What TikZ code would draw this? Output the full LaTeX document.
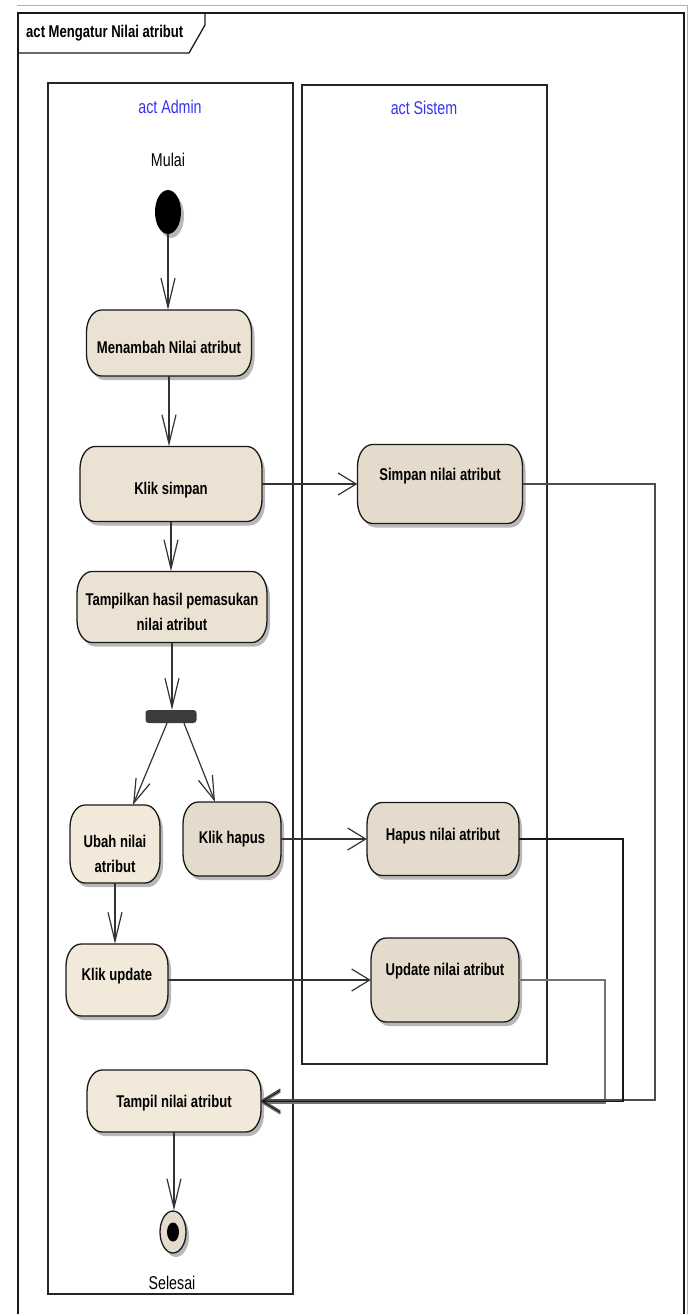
\documentclass[tikz,border=0pt]{standalone}
\usepackage{fontspec}
\newfontfamily\diafont{Liberation Sans}[FakeStretch=0.77]
\usetikzlibrary{arrows.meta,shapes.geometric,shadows}

\definecolor{actA}{HTML}{F2E9DA}
\definecolor{actB}{HTML}{EBE2D3}
\definecolor{actC}{HTML}{E4DBCC}
\definecolor{laneblue}{HTML}{3434F2}
\definecolor{shadowc}{HTML}{B8B8B8}
\definecolor{forkc}{HTML}{3C3C3C}

\tikzset{
  flow/.style={line width=1.2pt, draw=black!80},
  vtip/.style={-{Straight Barb[length=29pt,width=14pt]}},
  htip/.style={-{Straight Barb[length=18pt,width=22pt]}},
  dtip/.style={-{Straight Barb[length=24pt,width=15pt]}},
  acttext/.style={font=\diafont\bfseries\fontsize{17}{25}\selectfont, align=center, inner sep=0pt},
  boxline/.style={draw=black!90, line width=1.3pt},
  lanelabel/.style={font=\diafont\fontsize{18.5}{20}\selectfont, text=laneblue},
  plainlabel/.style={font=\diafont\fontsize{18.5}{20}\selectfont},
  lane/.style={draw=black!85, line width=1.4pt},
  softshadow/.style={drop shadow={shadow xshift=3pt, shadow yshift=-4pt, fill=shadowc, opacity=1}},
}

% action box: name, centre x, centre y, width, height, fill, text offset, text
\newcommand\actbox[8]{%
  \pgfmathsetmacro\bhw{#4/2}%
  \pgfmathsetmacro\bhh{#5/2}%
  \begin{scope}[shift={(#2+3,#3+4)}]
    \fill[shadowc] (-\bhw+15,-\bhh) -- (\bhw-15,-\bhh)
      arc[start angle=90,end angle=0,x radius=15pt,y radius=22pt] -- (\bhw,\bhh-22)
      arc[start angle=0,end angle=-90,x radius=15pt,y radius=22pt] -- (-\bhw+15,\bhh)
      arc[start angle=-90,end angle=-180,x radius=15pt,y radius=22pt] -- (-\bhw,-\bhh+22)
      arc[start angle=180,end angle=90,x radius=15pt,y radius=22pt] -- cycle;
  \end{scope}
  \begin{scope}[shift={(#2,#3)}]
    \filldraw[fill=#6, boxline] (-\bhw+15,-\bhh) -- (\bhw-15,-\bhh)
      arc[start angle=90,end angle=0,x radius=15pt,y radius=22pt] -- (\bhw,\bhh-22)
      arc[start angle=0,end angle=-90,x radius=15pt,y radius=22pt] -- (-\bhw+15,\bhh)
      arc[start angle=-90,end angle=-180,x radius=15pt,y radius=22pt] -- (-\bhw,-\bhh+22)
      arc[start angle=180,end angle=90,x radius=15pt,y radius=22pt] -- cycle;
  \end{scope}
  \node[inner sep=0pt, minimum width=#4pt, minimum height=#5pt] (#1) at (#2,#3) {};
  \node[acttext] (#1-text) at (#2,#3+#7) {#8};
}

\begin{document}
\begin{tikzpicture}[x=1pt, y=-1pt]
  \useasboundingbox (0,0) rectangle (692,1314);
  \fill[white] (0,0) rectangle (692,1314);

  % diagram frame and its name tab
  \draw[black!30, line width=0.8pt] (17,5) -- (687,5) -- (687,1320);
  \draw[black!90, line width=1.5pt] (18,1320) -- (18,13) -- (684,13) -- (684,1320);
  \draw[black!90, line width=1.3pt] (18,53) -- (189,53) -- (205,25) -- (205,13);
  \node[font=\diafont\bfseries\fontsize{17}{20}\selectfont, anchor=west, inner sep=0pt] (title) at (26,33) {act Mengatur Nilai atribut};

  % swimlanes
  \draw[lane] (48,83) rectangle (293,1294);
  \draw[lane] (302,85) rectangle (547,1064);
  \node[lanelabel] (adminlabel) at (170,107) {act Admin};
  \node[lanelabel] (sistemlabel) at (424,108) {act Sistem};

  % start
  \node[plainlabel] (mulai) at (168,160) {Mulai};
  \node[ellipse, fill=black, minimum width=26pt, minimum height=44pt, inner sep=0pt, softshadow] (start) at (168,212) {};

  % actions
  \actbox{menambah}{169}{343}{165}{66}{actB}{4}{Menambah Nilai atribut}
  \actbox{klik}{171}{484}{182}{75}{actB}{6}{Klik simpan}
  \actbox{tampilkan}{172}{607}{190}{71}{actB}{5}{Tampilkan hasil pemasukan\\nilai atribut}
  \actbox{simpan}{440}{484}{165}{79}{actC}{-8}{Simpan nilai atribut}
  \actbox{ubah}{115}{844}{90}{78}{actA}{10}{Ubah nilai\\atribut}
  \actbox{klikhapus}{232}{839}{98}{74}{actC}{0}{Klik hapus}
  \actbox{klikupdate}{117}{980}{102}{72}{actA}{-4}{Klik update}
  \actbox{hapus}{443}{839}{152}{73}{actC}{-3}{Hapus nilai atribut}
  \actbox{update}{445}{980}{148}{84}{actC}{-9}{Update nilai atribut}
  \actbox{tampil}{174}{1101}{174}{62}{actA}{2}{Tampil nilai atribut}

  % fork bar
  \node[rectangle, rounded corners=3pt, fill=forkc, minimum width=51pt, minimum height=13pt, inner sep=0pt] (fork) at (171,716.5) {};

  % end
  \node[ellipse, fill=actC, boxline, minimum width=26pt, minimum height=42pt, inner sep=0pt, softshadow] (end) at (173,1232) {};
  \node[ellipse, fill=black, minimum width=12pt, minimum height=19pt, inner sep=0pt] (enddot) at (end) {};
  \node[plainlabel] (selesai) at (172,1283) {Selesai};

  % return routes, merging just above and below the middle of the last action
  \coordinate (simpanturn) at (655,1100);
  \coordinate (hapusturn) at (623,1101.5);
  \coordinate (updateturn) at (605,1103);

  % flows
  \draw[flow,vtip] (start.south) -- (start.south |- menambah.north);
  \draw[flow,vtip] (menambah.south) -- (menambah.south |- klik.north);
  \draw[flow,htip] (klik.east) -- (klik.east -| simpan.west);
  \draw[flow,vtip] (klik.south) -- (klik.south |- tampilkan.north);
  \draw[flow,vtip] (tampilkan.south) -- (tampilkan.south |- fork.north);
  \draw[flow,dtip] ([xshift=-4pt]fork.south) -- ([xshift=18pt]ubah.north);
  \draw[flow,dtip] ([xshift=13pt]fork.south) -- ([xshift=-17pt]klikhapus.north);
  \draw[flow,vtip] (ubah.south) -- (ubah.south |- klikupdate.north);
  \draw[flow,htip] (klikhapus.east) -- (klikhapus.east -| hapus.west);
  \draw[flow,htip] (klikupdate.east) -- (klikupdate.east -| update.west);
  \draw[flow,htip,draw=black!55] (update.east) -| (updateturn) -- (updateturn -| tampil.east);
  \draw[flow,htip,draw=black!70] (simpan.east) -| (simpanturn) -- (simpanturn -| tampil.east);
  \draw[flow,htip,draw=black!90] (hapus.east) -| (hapusturn) -- (hapusturn -| tampil.east);
  \draw[flow,vtip] (tampil.south) -- (tampil.south |- end.north);
\end{tikzpicture}
\end{document}
